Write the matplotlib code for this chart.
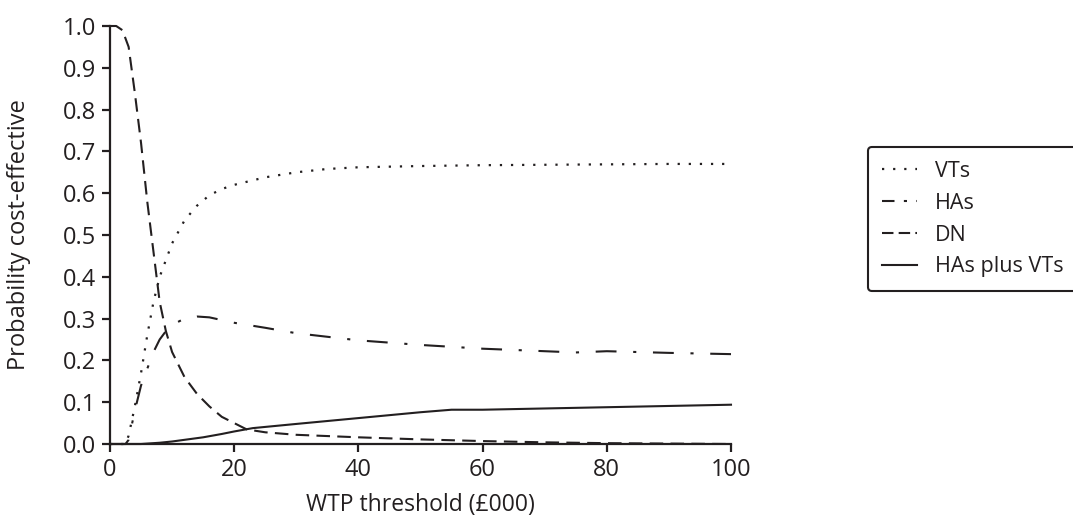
import matplotlib
matplotlib.use("Agg")
import matplotlib.pyplot as plt

plt.rcParams['font.family'] = ['Open Sans', 'DejaVu Sans']

# --- data ---
vts_x = [0, 2, 2.5, 3, 4, 5, 6, 7, 8, 9, 10, 12, 14, 16, 18, 20, 25, 30, 35, 40, 50, 60, 70, 80, 90, 100]
vts_y = [0, 0, 0, 0.02, 0.09, 0.17, 0.26, 0.34, 0.40, 0.44, 0.48, 0.535, 0.57, 0.595, 0.61, 0.62,
         0.638, 0.65, 0.658, 0.662, 0.665, 0.667, 0.668, 0.669, 0.67, 0.67]

has_x = [0, 2.5, 3, 4, 5, 6, 7, 8, 9, 10, 12, 14, 16, 20, 25, 30, 40, 50, 60, 70, 75, 80, 90, 100]
has_y = [0, 0, 0.01, 0.08, 0.14, 0.18, 0.22, 0.25, 0.27, 0.285, 0.30, 0.305, 0.303, 0.29, 0.278,
         0.265, 0.248, 0.237, 0.228, 0.222, 0.219, 0.222, 0.218, 0.215]

dn_x = [0, 1, 2, 3, 4, 5, 6, 7, 8, 9, 10, 12, 14, 16, 18, 20, 22, 25, 30, 40, 50, 60, 70, 80, 90, 100]
dn_y = [1.0, 1.0, 0.99, 0.95, 0.84, 0.72, 0.58, 0.46, 0.34, 0.27, 0.22, 0.16, 0.12, 0.09, 0.065,
        0.05, 0.035, 0.028, 0.022, 0.016, 0.011, 0.007, 0.004, 0.002, 0.001, 0.0]

hv_x = [0, 5, 8, 10, 12, 15, 18, 20, 23, 30, 40, 50, 55, 60, 70, 80, 90, 100]
hv_y = [0, 0, 0.003, 0.006, 0.01, 0.016, 0.024, 0.03, 0.038, 0.048, 0.062, 0.076, 0.082, 0.082,
        0.085, 0.088, 0.091, 0.094]

labels = ['VTs', 'HAs', 'DN', 'HAs plus VTs']
x_ticks = [0, 20, 40, 60, 80, 100]
y_ticks = [0.0, 0.1, 0.2, 0.3, 0.4, 0.5, 0.6, 0.7, 0.8, 0.9, 1.0]

W, H = 1073, 516
fig = plt.figure(figsize=(W / 100, H / 100), dpi=100)
ax = fig.add_axes([110 / W, 1 - 444 / H, (731 - 110) / W, (444 - 26) / H])

col = '#231f20'
lw = 1.5
ax.plot(vts_x, vts_y, color=col, lw=1.6, linestyle=(0, (1, 4)), label=labels[0], clip_on=False)
ax.plot(has_x, has_y, color=col, lw=lw, linestyle=(0, (10, 8, 1.5, 8)), label=labels[1], clip_on=False)
ax.plot(dn_x, dn_y, color=col, lw=lw, linestyle=(0, (6.5, 3.5)), label=labels[2], clip_on=False)
ax.plot(hv_x, hv_y, color=col, lw=lw, linestyle='-', label=labels[3], clip_on=False)

ax.set_xlim(0, 100)
ax.set_ylim(0, 1)
ax.set_xticks(x_ticks)
ax.set_xticklabels([str(t) for t in x_ticks])
ax.set_yticks(y_ticks)
ax.set_yticklabels([f'{t:.1f}' for t in y_ticks])
for s in ['top', 'right']:
    ax.spines[s].set_visible(False)
for s in ['left', 'bottom']:
    ax.spines[s].set_linewidth(1.6)
    ax.spines[s].set_color(col)
ax.tick_params(direction='out', length=6, width=1.6, colors=col, labelsize=17, pad=4)
ax.set_xlabel('WTP threshold (£000)', fontsize=16.5, color=col, labelpad=8)
ax.set_ylabel('Probability cost-effective', fontsize=17, color=col)
ax.yaxis.set_label_coords(-0.128, 0.5)

leg = fig.legend(loc='upper left', bbox_to_anchor=(868 / W, 1 - 147 / H), bbox_transform=fig.transFigure,
                 fontsize=15.5, frameon=True, fancybox=True, handlelength=1.63, handletextpad=0.84,
                 labelspacing=0.5, borderpad=0.65, borderaxespad=0)
handles = leg.legend_handles
handles[1].set_linestyle((0, (6, 4.5, 1.5, 4.5)))
handles[2].set_linestyle((0, (5.5, 2.5)))
fr = leg.get_frame()
fr.set_edgecolor(col)
fr.set_linewidth(1.5)
fr.set_alpha(1)
for t in leg.get_texts():
    t.set_color(col)

fig.savefig('out.png', dpi=100)
